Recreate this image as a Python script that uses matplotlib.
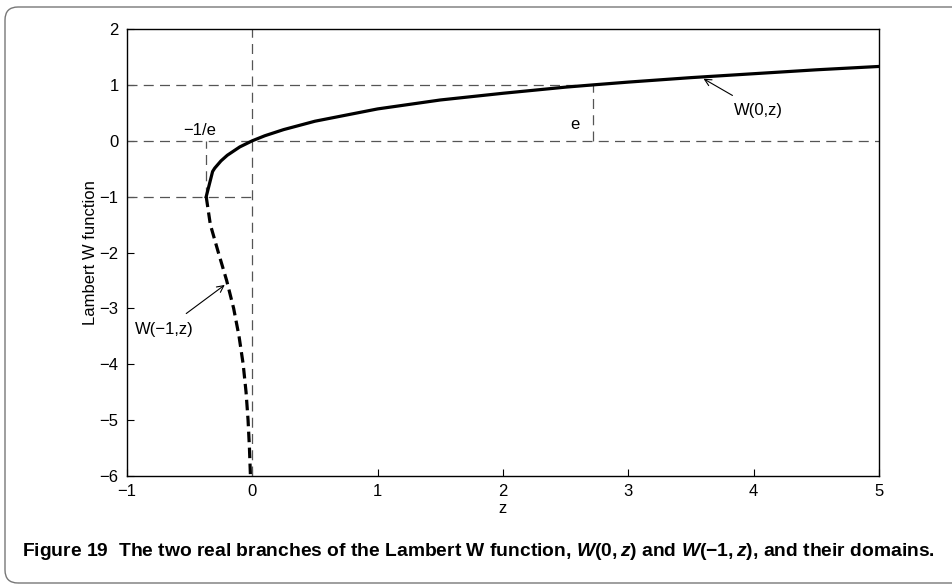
import matplotlib
matplotlib.use("Agg")
import matplotlib.pyplot as plt
from matplotlib.patches import FancyBboxPatch

plt.rcParams.update({
    "font.family": ["Liberation Sans", "DejaVu Sans"],
    "font.size": 12,
    "mathtext.fontset": "custom",
    "mathtext.rm": "Liberation Sans:bold",
    "mathtext.it": "Liberation Sans:bold:italic",
    "mathtext.bf": "Liberation Sans:bold",
})

# principal branch W(0,z)
w0_z = [-0.368, -0.317, -0.30, -0.25, -0.20, -0.10, 0.0, 0.10, 0.25, 0.50, 0.75,
        1.0, 1.5, 2.0, 2.5, 2.718, 3.0, 3.5, 4.0, 4.5, 5.0]
w0_w = [-1.0, -0.55, -0.49, -0.36, -0.26, -0.11, 0.0, 0.09, 0.20, 0.35, 0.46,
        0.57, 0.73, 0.85, 0.96, 1.0, 1.05, 1.13, 1.20, 1.27, 1.33]

# lower branch W(-1,z)
wm1_z = [-0.368, -0.335, -0.271, -0.205, -0.149, -0.106, -0.073, -0.050, -0.034, -0.023, -0.015]
wm1_w = [-1.0, -1.5, -2.0, -2.5, -3.0, -3.5, -4.0, -4.5, -5.0, -5.5, -6.0]

inv_e = -0.3679
e_val = 2.718

fig = plt.figure(figsize=(9.52, 5.85), dpi=100)
ax = fig.add_axes([0.1334, 0.1863, 0.7899, 0.7641])

grey = dict(color="#555555", lw=0.9, ls=(0, (8, 5)))
ax.plot([-1, e_val], [1, 1], **grey)
ax.plot([e_val, e_val], [0, 1], **grey)
ax.plot([-1, 5], [0, 0], **grey)
ax.plot([0, 0], [-6, 2], **grey)
ax.plot([-1, 0], [-1, -1], **grey)
ax.plot([inv_e, inv_e], [-1, 0], **grey)

ax.plot(w0_z, w0_w, color="black", lw=2.3, solid_joinstyle="round")
ax.plot(wm1_z, wm1_w, color="black", lw=2.3, ls=(0, (3.3, 1.7)))

ax.text(-0.42, 0.18, "\u22121/e", ha="center", va="center")
ax.text(2.57, 0.29, "e", ha="center", va="center")
ax.annotate("W(0,z)", xy=(3.6, 1.11), xytext=(4.04, 0.54), ha="center", va="center",
            arrowprops=dict(arrowstyle="->", lw=0.8, color="black", shrinkA=7, shrinkB=0))
ax.annotate("W(\u22121,z)", xy=(-0.22, -2.58), xytext=(-0.70, -3.38), ha="center", va="center",
            arrowprops=dict(arrowstyle="->", lw=0.8, color="black", shrinkA=7, shrinkB=0))

ax.set_xlim(-1, 5)
ax.set_ylim(-6, 2)
ax.set_xticks(range(-1, 6))
ax.set_yticks(range(-6, 3))
ax.tick_params(direction="in", length=5, width=0.8, pad=6, labelsize=12)
for s in ax.spines.values():
    s.set_linewidth(1.0)
ax.set_xlabel("z")
ax.set_ylabel("Lambert W function")
ax.xaxis.set_label_coords(0.5, -0.057)
ax.yaxis.set_label_coords(-0.038, 0.5)

box = FancyBboxPatch((0.05, 0.02), 10.0, 5.76,
                     boxstyle="round,pad=0,rounding_size=0.13",
                     transform=fig.dpi_scale_trans, fill=False, edgecolor="#777777", lw=1.0)
fig.patches.append(box)

fig.text(22 / 952, 1 - 551 / 585,
         r"Figure 19  The two real branches of the Lambert W function, $W(0,z)$ and $W(-1,z)$, and their domains.",
         fontsize=13.9, fontweight="bold", ha="left", va="center")

fig.savefig("out.png", dpi=100)
